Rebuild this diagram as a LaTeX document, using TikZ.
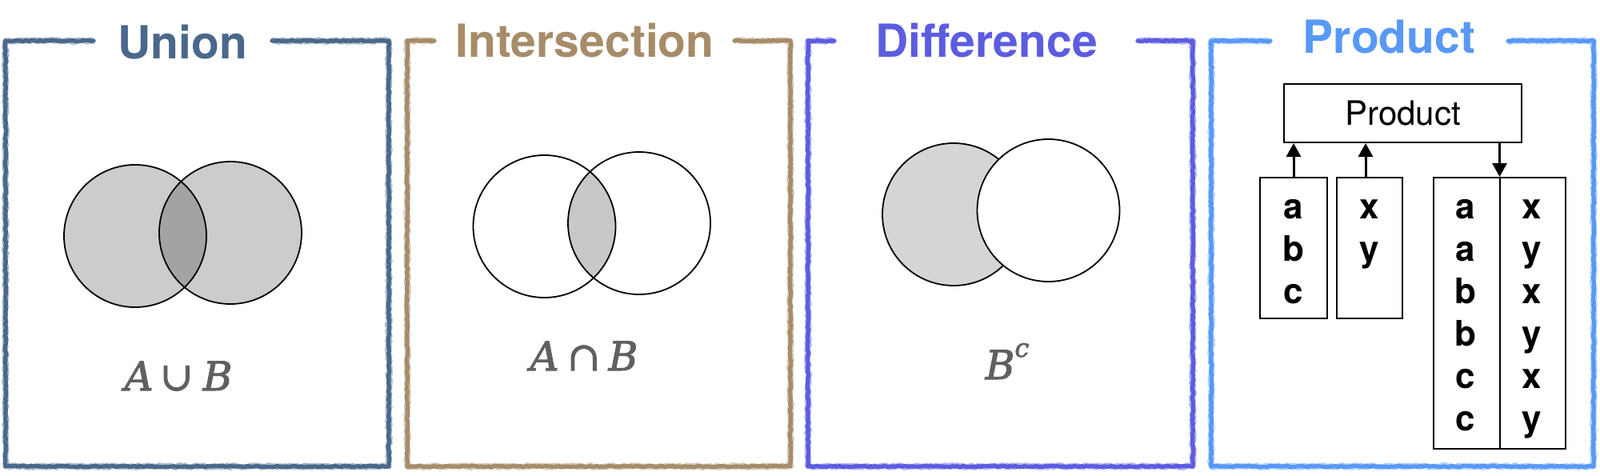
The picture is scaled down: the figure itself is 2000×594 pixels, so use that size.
\documentclass[tikz,border=0pt]{standalone}
\usepackage{fontspec}
\newfontfamily\heros{TeX Gyre Heros}
\newfontfamily\lblfont{DejaVu Serif}[FakeBold=2]
\usetikzlibrary{arrows.meta,decorations.pathmorphing}
\definecolor{cunion}{HTML}{4A688C}
\definecolor{cinter}{HTML}{A68C68}
\definecolor{cdiff}{HTML}{5C5CE0}
\definecolor{cprod}{HTML}{5898F6}
\definecolor{lblgray}{HTML}{606060}
\definecolor{vennA}{HTML}{CCCCCC}
\definecolor{vennAB}{HTML}{A3A3A3}
\definecolor{interfill}{HTML}{C8C8C8}
\definecolor{difffill}{HTML}{D5D5D5}
\begin{document}
\begin{tikzpicture}[x=0.5pt,y=-0.5pt,
  chalk/.style={line width=2.6pt, line join=round, line cap=round, decorate,
    decoration={random steps, segment length=1.5pt, amplitude=0.4pt}},
  chalkhalo/.style={line width=3.6pt, opacity=0.45, line join=round, decorate,
    decoration={random steps, segment length=1pt, amplitude=0.7pt}},
  title/.style={font=\heros\bfseries\fontsize{28.5}{30}\selectfont, anchor=base, inner sep=0pt},
  setlbl/.style={text=lblgray, font=\lblfont\fontsize{25}{27}\selectfont, anchor=base, inner sep=0pt},
  venn/.style={draw=black, line width=0.9pt},
  box/.style={draw=black, line width=1pt, inner sep=0pt},
  letter/.style={font=\heros\bfseries\fontsize{22}{24}\selectfont, anchor=base, inner sep=0pt},
  arr/.style={line width=1.5pt, -{Triangle[length=8.5pt,width=9pt]}},
]
\useasboundingbox (0,0) rectangle (2000,594);

% frames
\foreach \L/\R/\gl/\gr/\c in {7/486/117/340/cunion, 509/988/543/918/cinter, 1010/1491/1043/1422/cdiff, 1514/1992/1588/1885/cprod} {
  \draw[chalkhalo, draw=\c] (\gl,51) -- (\L,51) -- (\L,583) -- (\R,583) -- (\R,51) -- (\gr,51);
  \draw[chalk, draw=\c] (\gl,51) -- (\L,51) -- (\L,583) -- (\R,583) -- (\R,51) -- (\gr,51);
}

% titles
\node[title, text=cunion] (tunion) at (228,73) {Union};
\node[title, text=cinter] (tinter) at (731,71) {Intersection};
\node[title, text=cdiff] (tdiff) at (1233,71) {Difference};
\node[title, text=cprod] (tprod) at (1736.5,66) {Product};

% union venn
\fill[vennA] (169,295) circle[radius=44.5pt] (288,291) circle[radius=44.5pt];
\begin{scope}
  \clip (169,295) circle[radius=44.5pt];
  \fill[vennAB] (288,291) circle[radius=44.5pt];
\end{scope}
\draw[venn] (169,295) circle[radius=44.5pt] (288,291) circle[radius=44.5pt];

% intersection venn
\begin{scope}
  \clip (680.5,283) circle[radius=44.5pt];
  \fill[interfill] (799,279) circle[radius=44.5pt];
\end{scope}
\draw[venn] (680.5,283) circle[radius=44.5pt] (799,279) circle[radius=44.5pt];

% difference venn
\fill[difffill] (1192,268) circle[radius=44.5pt];
\draw[venn] (1192,268) circle[radius=44.5pt];
\fill[white] (1310.5,263) circle[radius=44.5pt];
\draw[venn] (1310.5,263) circle[radius=44.5pt];

% labels
\node[setlbl] (lunion) at (223,488) {\itshape A\hspace{4pt}\upshape ∪\hspace{6pt}\itshape B};
\node[setlbl] (linter) at (730,463) {\itshape A\hspace{5pt}\upshape ∩\hspace{5pt}\itshape B};
\node[setlbl] (ldiff) at (1259,474) {\itshape B\raisebox{14pt}{\fontsize{16}{18}\selectfont c}};

% product diagram
\node[box, minimum width=148.5pt, minimum height=36.5pt, font=\heros\fontsize{21}{24}\selectfont] (pbox) at (1753.5,141.5) {Product};
\node[box, minimum width=42pt, minimum height=88pt] (abc) at (1617,310) {};
\node[box, minimum width=41pt, minimum height=88pt] (xy) at (1712,310) {};
\node[box, minimum width=82.5pt, minimum height=169.5pt] (res) at (1874.5,391.5) {};
\draw[line width=1pt] (res.north) -- (res.south);

\draw[arr] (abc.north) -- (abc.north |- pbox.south);
\draw[arr] ([xshift=-2.5pt]xy.north) -- ([xshift=-2.5pt]xy.north |- pbox.south);
\draw[arr] (res.north |- pbox.south) -- (res.north);

\foreach \t [count=\i] in {a,b,c} \node[letter] (abc\i) at (1617, {220+53*\i}) {\t};
\foreach \t [count=\i] in {x,y} \node[letter] (xy\i) at (1712, {220+53*\i}) {\t};
\foreach \t [count=\i] in {a,a,b,b,c,c} \node[letter] (rl\i) at (1832, {220+53*\i}) {\t};
\foreach \t [count=\i] in {x,y,x,y,x,y} \node[letter] (rr\i) at (1915, {220+53*\i}) {\t};
\end{tikzpicture}
\end{document}
